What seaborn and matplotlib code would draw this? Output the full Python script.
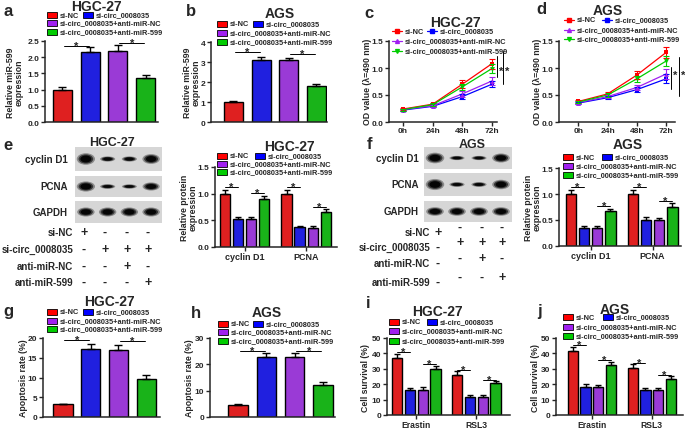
import numpy as np
import pandas as pd
import seaborn as sns
import matplotlib.pyplot as plt
from matplotlib.patches import Rectangle, Ellipse
from matplotlib.lines import Line2D

# groups / colours
groups = ['si-NC', 'si-circ_0008035', 'si-circ_0008035+anti-miR-NC', 'si-circ_0008035+anti-miR-599']
colors = ['#ff0000', '#0000ff', '#a020f0', '#00cc00']

# a, b: relative miR-599 expression
mir_hgc = [1.00, 2.15, 2.20, 1.37]
mir_hgc_err = [0.07, 0.15, 0.17, 0.08]
mir_ags = [1.00, 3.10, 3.08, 1.78]
mir_ags_err = [0.05, 0.17, 0.14, 0.12]

# c, d: OD value over time (one row per group)
times = ['0h', '24h', '48h', '72h']
od_hgc = [[0.24, 0.33, 0.70, 1.08], [0.22, 0.29, 0.47, 0.70],
          [0.23, 0.30, 0.52, 0.76], [0.23, 0.32, 0.65, 0.99]]
od_hgc_err = [[0.02, 0.03, 0.07, 0.09], [0.02, 0.02, 0.04, 0.06],
              [0.02, 0.02, 0.05, 0.07], [0.02, 0.03, 0.06, 0.08]]
od_ags = [[0.38, 0.52, 0.87, 1.29], [0.35, 0.45, 0.60, 0.80],
          [0.36, 0.47, 0.64, 0.89], [0.37, 0.50, 0.80, 1.13]]
od_ags_err = [[0.03, 0.03, 0.07, 0.10], [0.02, 0.03, 0.05, 0.08],
              [0.02, 0.03, 0.05, 0.09], [0.02, 0.03, 0.06, 0.09]]

# e, f: western blot quantification
proteins = ['cyclin D1', 'PCNA']
prot_hgc = [[1.00, 1.00], [0.52, 0.37], [0.52, 0.36], [0.90, 0.66]]
prot_hgc_err = [[0.07, 0.07], [0.05, 0.03], [0.05, 0.03], [0.06, 0.05]]
prot_ags = [[1.00, 1.00], [0.34, 0.50], [0.35, 0.50], [0.67, 0.75]]
prot_ags_err = [[0.07, 0.07], [0.04, 0.05], [0.03, 0.04], [0.05, 0.07]]

# blot band intensities (lanes 1-4)
blot_names = ['cyclin D1', 'PCNA', 'GAPDH']
blot_hgc = [[1.0, 0.45, 0.45, 0.85], [1.0, 0.45, 0.42, 0.80], [0.85, 0.85, 0.85, 0.85]]
blot_ags = [[1.0, 0.40, 0.40, 0.85], [1.0, 0.42, 0.42, 0.85], [0.85, 0.85, 0.85, 0.85]]
sign_rows = ['si-NC', 'si-circ_0008035', 'anti-miR-NC', 'anti-miR-599']
signs = [['+', '-', '-', '-'], ['-', '+', '+', '+'], ['-', '-', '+', '-'], ['-', '-', '-', '+']]

# g, h: apoptosis rate
apo_hgc = [3.2, 17.3, 17.0, 9.7]
apo_hgc_err = [0.2, 1.3, 1.2, 0.9]
apo_ags = [4.5, 22.8, 22.7, 12.3]
apo_ags_err = [0.3, 1.5, 1.6, 1.1]

# i, j: cell survival
drugs = ['Erastin', 'RSL3']
surv_hgc = [[37.0, 26.0], [16.3, 11.7], [16.5, 11.8], [29.7, 20.6]]
surv_hgc_err = [[2.5, 2.5], [1.5, 1.0], [1.7, 1.0], [1.8, 1.3]]
surv_ags = [[41.3, 30.4], [18.3, 16.0], [18.2, 16.0], [32.6, 23.3]]
surv_ags_err = [[3.0, 2.5], [1.8, 1.5], [1.6, 1.5], [2.0, 1.8]]

sns.set_style('ticks')
plt.rcParams['font.family'] = ['Liberation Sans', 'DejaVu Sans']
plt.rcParams['font.weight'] = 'bold'
plt.rcParams['axes.linewidth'] = 1.1

W, H = 685, 431
fig = plt.figure(figsize=(W / 100, H / 100), dpi=100)


def rect(l, t, r, b):
    return [l / W, 1 - b / H, (r - l) / W, (b - t) / H]


def ftext(x, y, s, **kw):
    kw.setdefault('fontweight', 'bold')
    fig.text(x / W, 1 - y / H, s, **kw)


def style_axis(ax, ylim, yticks, ylabels, xlim, xsize=6.0):
    ax.set_ylim(*ylim)
    ax.set_xlim(*xlim)
    ax.set_yticks(yticks)
    ax.set_yticklabels(ylabels)
    sns.despine(ax=ax)
    ax.tick_params(axis='both', length=3, width=1, labelsize=6.0, pad=1.2)
    ax.tick_params(axis='x', labelsize=xsize, pad=0.8)
    for lab in ax.get_yticklabels() + ax.get_xticklabels():
        lab.set_fontweight('bold')
    ax.set_xlabel('')
    ax.set_ylabel('')


def bar_legend(x0, x1, rows):
    spots = [(x0, rows[0]), (x1, rows[0]), (x0, rows[1]), (x0, rows[2])]
    for (x, y), g, c in zip(spots, groups, colors):
        fig.add_artist(Rectangle((x / W, 1 - (y + 3) / H), 10 / W, 6 / H, facecolor=c,
                                 edgecolor='black', lw=0.6, transform=fig.transFigure))
        ftext(x + 13, y, g, fontsize=5.3, va='center')


def line_legend(x0, x1, rows):
    spots = [(x0, rows[0]), (x1, rows[0]), (x0, rows[1]), (x0, rows[2])]
    marks = ['s', 's', '^', 'v']
    for (x, y), g, c, m in zip(spots, groups, colors, marks):
        fig.add_artist(Line2D([x / W, (x + 10) / W], [1 - y / H, 1 - y / H], color=c, lw=0.9,
                              transform=fig.transFigure))
        fig.add_artist(Line2D([(x + 5) / W], [1 - y / H], color=c, marker=m, markersize=2.8,
                              transform=fig.transFigure))
        ftext(x + 13, y, g, fontsize=5.3, va='center')


def star(ax, x1, x2, y):
    ax.plot([x1, x2], [y, y], color='black', lw=0.7, clip_on=False)
    ax.text((x1 + x2) / 2, y, '*', ha='center', va='center', fontsize=8, fontweight='bold')


def simple_bars(ax, vals, errs):
    df = pd.DataFrame({'group': groups, 'value': vals})
    sns.barplot(data=df, x='group', y='value', hue='group', order=groups, hue_order=groups,
                palette=colors, width=0.69, edgecolor='black', linewidth=1.0, errorbar=None,
                legend=False, ax=ax)
    ax.errorbar(range(4), vals, yerr=[np.zeros(4), errs], fmt='none', ecolor='black',
                elinewidth=1, capsize=3, capthick=1)
    ax.set_xticks([])


def grouped_bars(ax, cats, vals, errs):
    rows = [(c, g, vals[gi][ci]) for gi, g in enumerate(groups) for ci, c in enumerate(cats)]
    df = pd.DataFrame(rows, columns=['cat', 'group', 'value'])
    sns.barplot(data=df, x='cat', y='value', hue='group', order=cats, hue_order=groups,
                palette=colors, width=0.85, gap=0.2, edgecolor='black', linewidth=1.0,
                errorbar=None, legend=False, ax=ax)
    offs = (np.arange(4) - 1.5) * 0.85 / 4
    for gi in range(4):
        ax.errorbar(np.arange(len(cats)) + offs[gi], vals[gi],
                    yerr=[np.zeros(len(cats)), errs[gi]], fmt='none', ecolor='black',
                    elinewidth=1, capsize=2.5, capthick=1)
    return offs


def od_lines(ax, vals, errs):
    rows = [(ti, g, vals[gi][ti]) for gi, g in enumerate(groups) for ti in range(len(times))]
    df = pd.DataFrame(rows, columns=['t', 'group', 'od'])
    sns.lineplot(data=df, x='t', y='od', hue='group', hue_order=groups, palette=colors,
                 style='group', style_order=groups, markers=['s', 's', '^', 'v'], dashes=False,
                 markersize=3.5, markeredgewidth=0, linewidth=0.9, legend=False, ax=ax)
    for gi in range(4):
        ax.errorbar(range(len(times)), vals[gi], yerr=errs[gi], fmt='none', ecolor=colors[gi],
                    elinewidth=0.8, capsize=2, capthick=0.8)
    ax.set_xticks(range(len(times)))
    ax.set_xticklabels(times)


def blot(strips, x_left, x_right, names, label_x, intens):
    for (t, b), name, vals in zip(strips, names, intens):
        ax = fig.add_axes(rect(x_left, t, x_right, b))
        ax.set_facecolor('#d6d6d6')
        ax.set_xlim(-0.5, 3.5)
        ax.set_ylim(-0.5, 0.5)
        ax.set_xticks([])
        ax.set_yticks([])
        for s in ax.spines.values():
            s.set_visible(False)
        for li, v in enumerate(vals):
            for k, a in zip([1.0, 0.8, 0.6], [0.35, 0.6, 0.9]):
                ax.add_patch(Ellipse((li, 0), (0.55 + 0.25 * v) * k * 1.05, 0.42 * v * k * 1.15,
                                     facecolor='black', alpha=a, lw=0))
        ftext(label_x, (t + b) / 2, name, fontsize=7, ha='right', va='center')


TICK15 = ([0, 0.5, 1.0, 1.5], ['0.0', '0.5', '1.0', '1.5'])

# ---------------- a ----------------
ax = fig.add_axes(rect(45, 42, 158, 123))
simple_bars(ax, mir_hgc, mir_hgc_err)
style_axis(ax, (0, 2.5), [0, 0.5, 1.0, 1.5, 2.0, 2.5], ['0.0', '0.5', '1.0', '1.5', '2.0', '2.5'], (-0.63, 3.45))
star(ax, 0.05, 0.95, 2.35)
star(ax, 2.05, 2.95, 2.43)
bar_legend(47, 83, [16, 24, 33])
ftext(96, 7, 'HGC-27', fontsize=10, ha='center', va='center')
ftext(15, 83, 'Relative miR-599\nexpression', fontsize=6.3, rotation=90, ha='center', va='center', linespacing=1.0)
ftext(3, 12, 'a', fontsize=12, ha='left', va='center')

# ---------------- b ----------------
ax = fig.add_axes(rect(211, 43, 327, 123))
simple_bars(ax, mir_ags, mir_ags_err)
style_axis(ax, (0, 4), [0, 1, 2, 3, 4], ['0', '1', '2', '3', '4'], (-0.81, 3.38))
star(ax, 0.05, 0.95, 3.5)
star(ax, 2.05, 2.95, 3.4)
bar_legend(217, 253, [25, 34, 43])
ftext(280, 14, 'AGS', fontsize=10, ha='center', va='center')
ftext(192, 83, 'Relative miR-599\nexpression', fontsize=6.3, rotation=90, ha='center', va='center', linespacing=1.0)
ftext(186, 12, 'b', fontsize=12, ha='left', va='center')

# ---------------- c ----------------
ax = fig.add_axes(rect(389, 42, 497, 123))
od_lines(ax, od_hgc, od_hgc_err)
style_axis(ax, (0, 1.5), *TICK15, (-0.47, 3.17))
for xl, y1, y2 in [(3.17, 1.22, 0.83), (3.37, 1.31, 0.70)]:
    ax.plot([xl, xl], [y1, y2], color='black', lw=0.7, clip_on=False)
    ax.text(xl + 0.13, 0.94, '*', ha='center', va='center', fontsize=8, fontweight='bold')
line_legend(392, 427, [32, 42, 52])
ftext(455, 23, 'HGC-27', fontsize=10, ha='center', va='center')
ftext(368, 82, 'OD value (λ=490 nm)', fontsize=6.3, rotation=90, ha='center', va='center')
ftext(364, 14, 'c', fontsize=12, ha='left', va='center')

# ---------------- d ----------------
ax = fig.add_axes(rect(559, 42, 675, 123))
od_lines(ax, od_ags, od_ags_err)
style_axis(ax, (0, 1.5), *TICK15, (-0.66, 3.3))
for xl, y1, y2 in [(3.15, 1.02, 0.61), (3.44, 1.20, 0.48)]:
    ax.plot([xl, xl], [y1, y2], color='black', lw=0.7, clip_on=False)
    ax.text(xl + 0.14, 0.88, '*', ha='center', va='center', fontsize=8, fontweight='bold')
line_legend(564, 602, [21, 31, 40])
ftext(608, 11, 'AGS', fontsize=10, ha='center', va='center')
ftext(537, 82, 'OD value (λ=490 nm)', fontsize=6.3, rotation=90, ha='center', va='center')
ftext(536, 9, 'd', fontsize=12, ha='left', va='center')

# ---------------- e (blot) ----------------
blot([(148, 172), (177, 198), (202, 224)], 75, 162, blot_names, 68, blot_hgc)
ftext(112, 143, 'HGC-27', fontsize=9, ha='center', va='center')
for ri, (lab, row) in enumerate(zip(sign_rows, signs)):
    y = [233, 250, 267, 283][ri]
    ftext(73, y, lab, fontsize=7, ha='right', va='center')
    for ci, s in enumerate(row):
        ftext([84, 105, 127, 148][ci], y, s, fontsize=9, ha='center', va='center')
ftext(3, 146, 'e', fontsize=12, ha='left', va='center')

# ---------------- e (bars) ----------------
ax = fig.add_axes(rect(215, 168, 337, 248))
offs = grouped_bars(ax, proteins, prot_hgc, prot_hgc_err)
style_axis(ax, (0, 1.5), *TICK15, (-0.48, 1.5), xsize=6.5)
star(ax, offs[0], offs[1], 1.12)
star(ax, offs[2], offs[3], 1.01)
star(ax, 1 + offs[0], 1 + offs[1], 1.12)
star(ax, 1 + offs[2], 1 + offs[3], 0.75)
bar_legend(217, 255, [157, 165, 173])
ftext(289, 147, 'HGC-27', fontsize=10, ha='center', va='center')
ftext(189, 208, 'Relative protein\nexpression', fontsize=6.3, rotation=90, ha='center', va='center', linespacing=1.0)

# ---------------- f (blot) ----------------
blot([(148, 170), (174, 197), (202, 223)], 424, 512, blot_names, 419, blot_ags)
ftext(472, 145, 'AGS', fontsize=9, ha='center', va='center')
for ri, (lab, row) in enumerate(zip(sign_rows, signs)):
    y = [233, 248, 264, 283][ri]
    ftext(430, y, lab, fontsize=7, ha='right', va='center')
    for ci, s in enumerate(row):
        ftext([438, 460, 482, 502][ci], y - (0 if ci == 0 else 5), s, fontsize=9, ha='center', va='center')
ftext(367, 145, 'f', fontsize=12, ha='left', va='center')

# ---------------- f (bars) ----------------
ax = fig.add_axes(rect(559, 169, 681, 247))
offs = grouped_bars(ax, proteins, prot_ags, prot_ags_err)
style_axis(ax, (0, 1.5), *TICK15, (-0.51, 1.46), xsize=6.5)
star(ax, offs[0], offs[1], 1.13)
star(ax, offs[2], offs[3], 0.77)
star(ax, 1 + offs[0], 1 + offs[1], 1.13)
star(ax, 1 + offs[2], 1 + offs[3], 0.87)
bar_legend(563, 602, [158, 167, 176])
ftext(628, 145, 'AGS', fontsize=10, ha='center', va='center')
ftext(533, 208, 'Relative protein\nexpression', fontsize=6.3, rotation=90, ha='center', va='center', linespacing=1.0)

# ---------------- g ----------------
ax = fig.add_axes(rect(43, 339, 160, 418))
simple_bars(ax, apo_hgc, apo_hgc_err)
style_axis(ax, (0, 20), [0, 5, 10, 15, 20], ['0', '5', '10', '15', '20'], (-0.72, 3.5))
star(ax, 0.05, 0.95, 19.5)
star(ax, 2.05, 2.95, 19.2)
bar_legend(47, 83, [313, 322, 330])
ftext(109, 302, 'HGC-27', fontsize=10, ha='center', va='center')
ftext(24, 378, 'Apoptosis rate (%)', fontsize=6.3, rotation=90, ha='center', va='center')
ftext(3, 312, 'g', fontsize=12, ha='left', va='center')

# ---------------- h ----------------
ax = fig.add_axes(rect(210, 339, 335, 418))
simple_bars(ax, apo_ags, apo_ags_err)
style_axis(ax, (0, 30), [0, 10, 20, 30], ['0', '10', '20', '30'], (-1.0, 3.43))
star(ax, 0.05, 0.95, 25)
star(ax, 2.05, 2.95, 25)
bar_legend(218, 253, [325, 333, 342])
ftext(267, 313, 'AGS', fontsize=10, ha='center', va='center')
ftext(190, 378, 'Apoptosis rate (%)', fontsize=6.3, rotation=90, ha='center', va='center')
ftext(191, 313, 'h', fontsize=12, ha='left', va='center')

# ---------------- i ----------------
ax = fig.add_axes(rect(387, 339, 510, 416))
offs = grouped_bars(ax, drugs, surv_hgc, surv_hgc_err)
style_axis(ax, (0, 50), [0, 10, 20, 30, 40, 50], ['0', '10', '20', '30', '40', '50'], (-0.49, 1.56), xsize=6.2)
star(ax, offs[0], offs[1], 41)
star(ax, offs[2], offs[3], 33)
star(ax, 1 + offs[0], 1 + offs[1], 29)
star(ax, 1 + offs[2], 1 + offs[3], 23)
bar_legend(389, 427, [323, 332, 342])
ftext(437, 312, 'HGC-27', fontsize=10, ha='center', va='center')
ftext(365, 378, 'Cell survival (%)', fontsize=6.3, rotation=90, ha='center', va='center')
ftext(366, 303, 'i', fontsize=12, ha='left', va='center')

# ---------------- j ----------------
ax = fig.add_axes(rect(556, 339, 683, 416))
offs = grouped_bars(ax, drugs, surv_ags, surv_ags_err)
style_axis(ax, (0, 50), [0, 10, 20, 30, 40, 50], ['0', '10', '20', '30', '40', '50'], (-0.6, 1.52), xsize=6.2)
star(ax, offs[0], offs[1], 45.5)
star(ax, offs[2], offs[3], 35.5)
star(ax, 1 + offs[0], 1 + offs[1], 34)
star(ax, 1 + offs[2], 1 + offs[3], 26)
bar_legend(563, 603, [318, 328, 337])
ftext(615, 310, 'AGS', fontsize=10, ha='center', va='center')
ftext(535, 378, 'Cell survival (%)', fontsize=6.3, rotation=90, ha='center', va='center')
ftext(537, 312, 'j', fontsize=12, ha='left', va='center')

fig.savefig('out.png', dpi=100)
